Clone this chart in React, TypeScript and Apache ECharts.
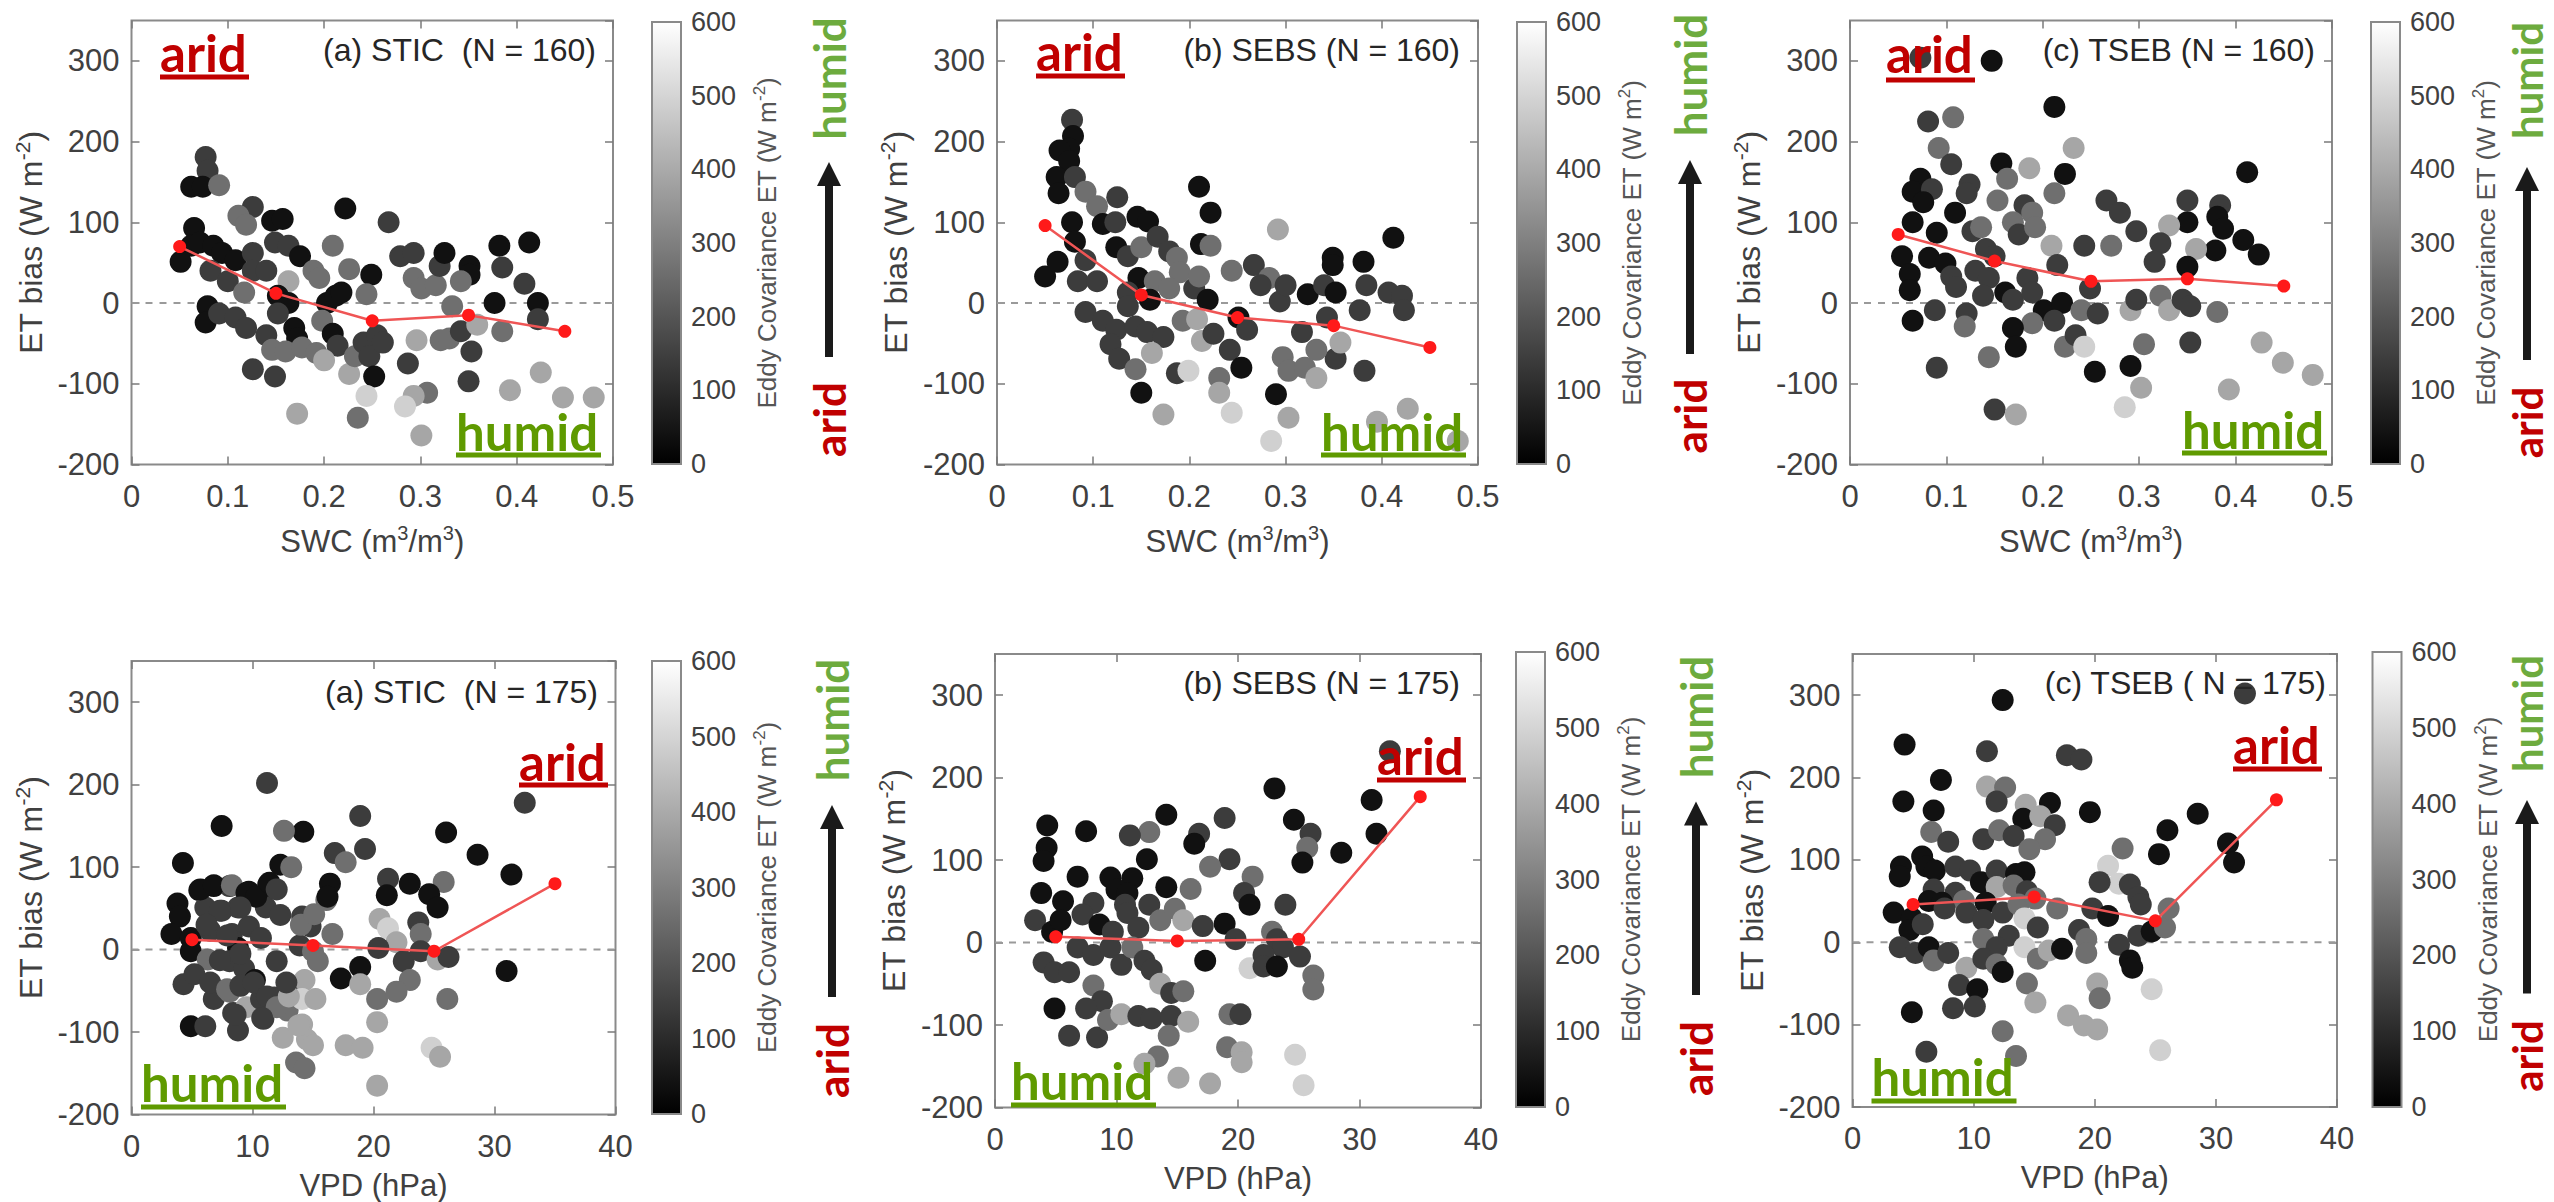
import React, { useEffect, useRef } from "react";
import * as echarts from "echarts";

// ---------- DATA ----------
// each point: [x, ET bias (W m-2), Eddy Covariance ET (W m-2)]
const sticSWC = [[0.077,181,140],[0.079,164,140],[0.062,144,40],[0.074,144,40],[0.091,146,260],[0.126,119,140],[0.111,108,260],[0.119,97,260],[0.146,102,40],[0.157,104,40],[0.222,117,40],[0.267,100,140],[0.209,71,260],[0.065,93,40],[0.062,71,40],[0.051,51,40],[0.071,75,40],[0.085,71,40],[0.094,62,40],[0.082,40,140],[0.100,27,140],[0.108,53,40],[0.126,62,140],[0.126,40,140],[0.117,13,260],[0.149,75,140],[0.163,71,140],[0.175,58,40],[0.163,27,390],[0.140,40,140],[0.152,9,40],[0.163,0,40],[0.079,-4,40],[0.077,-24,40],[0.091,-13,140],[0.108,-18,140],[0.119,-31,140],[0.140,-40,140],[0.152,-13,140],[0.169,-31,40],[0.172,-44,40],[0.146,-58,260],[0.160,-60,260],[0.177,-55,260],[0.126,-82,140],[0.149,-91,140],[0.189,40,260],[0.195,31,260],[0.203,0,40],[0.212,9,40],[0.218,13,40],[0.226,42,260],[0.198,-22,260],[0.209,-38,40],[0.214,-53,140],[0.192,-62,260],[0.200,-71,390],[0.226,-88,390],[0.232,-66,260],[0.241,-49,140],[0.247,-66,140],[0.249,35,40],[0.244,11,260],[0.255,-40,140],[0.261,-49,140],[0.252,-91,40],[0.244,-115,490],[0.235,-142,260],[0.172,-137,390],[0.279,58,140],[0.293,62,140],[0.293,31,260],[0.301,18,260],[0.316,22,260],[0.320,46,140],[0.325,62,40],[0.296,-46,390],[0.287,-75,140],[0.307,-111,260],[0.293,-115,390],[0.284,-128,490],[0.301,-164,390],[0.321,-46,260],[0.330,-44,260],[0.342,-35,140],[0.351,46,40],[0.351,35,40],[0.333,-4,260],[0.353,-60,140],[0.350,-97,140],[0.342,27,260],[0.382,71,40],[0.385,44,140],[0.377,0,40],[0.385,-35,260],[0.413,75,40],[0.408,24,140],[0.422,0,40],[0.422,-20,140],[0.393,-108,390],[0.425,-86,390],[0.448,-117,390],[0.480,-117,390],[0.359,-27,390]];

const sebsSWC = [[0.078,227,140],[0.079,207,40],[0.075,191,40],[0.065,189,40],[0.075,176,40],[0.062,156,40],[0.081,156,140],[0.064,136,40],[0.092,138,260],[0.104,120,260],[0.125,131,140],[0.078,100,40],[0.110,98,40],[0.123,100,140],[0.146,107,40],[0.157,101,40],[0.210,144,40],[0.222,112,40],[0.212,73,40],[0.222,71,260],[0.292,91,390],[0.412,81,40],[0.050,33,40],[0.063,51,40],[0.081,76,40],[0.092,53,140],[0.084,27,140],[0.104,27,140],[0.124,69,40],[0.136,58,140],[0.150,69,260],[0.167,82,140],[0.179,64,140],[0.187,56,260],[0.190,38,260],[0.147,31,40],[0.164,27,260],[0.136,13,140],[0.159,4,40],[0.179,18,260],[0.205,18,140],[0.219,4,40],[0.210,33,260],[0.092,-11,140],[0.110,-22,140],[0.124,-33,140],[0.136,-4,140],[0.144,-29,140],[0.156,-36,140],[0.173,-42,140],[0.118,-51,140],[0.127,-69,140],[0.144,-82,260],[0.150,-111,40],[0.161,-62,390],[0.173,-138,390],[0.187,-87,140],[0.199,-84,490],[0.193,-22,260],[0.208,-20,390],[0.213,-47,390],[0.225,-38,140],[0.231,-93,260],[0.231,-111,390],[0.242,-58,140],[0.254,-80,40],[0.244,-136,490],[0.244,40,260],[0.251,-18,40],[0.260,-33,140],[0.267,47,140],[0.283,31,260],[0.274,22,140],[0.294,2,140],[0.300,22,140],[0.297,-67,260],[0.303,-84,260],[0.290,-113,40],[0.303,-142,390],[0.285,-171,490],[0.320,-80,260],[0.332,-93,390],[0.317,-36,140],[0.323,11,40],[0.340,22,140],[0.349,56,40],[0.349,47,40],[0.352,13,40],[0.343,-18,140],[0.352,-69,140],[0.357,-49,390],[0.332,-58,260],[0.381,51,40],[0.384,22,140],[0.377,-9,140],[0.382,-84,140],[0.407,13,140],[0.421,9,140],[0.423,-9,140],[0.395,-147,390],[0.427,-131,390],[0.479,-171,390]];

const tsebSWC = [[0.147,300,40],[0.073,304,140],[0.212,243,40],[0.081,225,140],[0.107,230,260],[0.092,192,260],[0.232,192,390],[0.105,172,140],[0.157,173,40],[0.186,167,390],[0.223,160,40],[0.412,162,40],[0.073,154,40],[0.065,138,40],[0.085,141,140],[0.076,125,40],[0.124,147,140],[0.121,136,140],[0.163,154,260],[0.212,136,260],[0.153,127,260],[0.181,121,140],[0.189,112,260],[0.109,112,40],[0.065,100,40],[0.090,87,40],[0.127,89,140],[0.136,94,260],[0.169,100,260],[0.175,85,140],[0.192,94,260],[0.266,127,140],[0.280,112,140],[0.297,89,140],[0.350,127,140],[0.350,100,40],[0.384,121,140],[0.381,107,40],[0.387,92,40],[0.331,96,390],[0.408,78,40],[0.424,60,40],[0.379,65,40],[0.359,67,390],[0.322,74,140],[0.316,51,140],[0.271,71,260],[0.243,71,140],[0.209,71,390],[0.054,58,40],[0.062,36,40],[0.062,16,40],[0.065,-22,40],[0.082,56,40],[0.099,49,40],[0.105,33,140],[0.110,20,140],[0.130,40,140],[0.141,67,140],[0.150,58,140],[0.144,31,140],[0.138,9,140],[0.161,13,40],[0.169,4,140],[0.184,31,140],[0.189,13,140],[0.201,-9,40],[0.215,47,140],[0.220,0,40],[0.212,-22,140],[0.189,-25,260],[0.169,-31,40],[0.172,-54,40],[0.121,-13,140],[0.088,-9,140],[0.119,-29,260],[0.144,-67,260],[0.090,-80,140],[0.150,-132,140],[0.172,-138,390],[0.223,-54,260],[0.234,-40,140],[0.240,-9,260],[0.249,18,140],[0.257,-13,140],[0.243,-54,490],[0.254,-85,40],[0.291,-9,390],[0.297,4,140],[0.291,-78,40],[0.305,-51,260],[0.302,-105,390],[0.285,-129,490],[0.322,9,260],[0.331,-9,390],[0.345,4,140],[0.353,-4,140],[0.353,-49,140],[0.381,-11,260],[0.393,-107,390],[0.427,-49,390],[0.449,-74,390],[0.480,-89,390],[0.350,45,40]];

const sticVPD = [[11.2,202,140],[7.45,150,40],[14.2,143,40],[12.6,144,260],[18.9,162,140],[19.3,122,140],[16.8,117,140],[17.7,106,260],[4.25,105,40],[12.3,103,40],[13.2,100,260],[26.0,142,40],[28.6,115,40],[32.5,178,140],[31.4,91,40],[23.0,80,40],[21.2,86,140],[25.8,82,260],[24.6,67,40],[25.3,51,40],[21.1,66,40],[16.4,80,40],[16.1,60,260],[3.8,56,40],[4.0,40,40],[3.3,19,40],[4.9,14,40],[5.6,72,40],[6.8,77,40],[8.1,77,140],[6.1,51,140],[7.45,47,140],[8.8,51,140],[9.7,70,40],[10.7,63,40],[11.3,79,40],[11.1,51,140],[12.3,42,140],[14.1,40,140],[14.8,28,140],[16.6,19,260],[20.5,37,390],[21.2,26,490],[21.9,9,390],[23.7,33,140],[23.9,19,260],[6.5,23,140],[8.3,19,140],[9.7,28,140],[8.8,2,40],[10.7,14,140],[4.9,-2,40],[6.3,-12,260],[8.1,-14,140],[9.3,-23,140],[12.0,-14,140],[13.9,5,140],[15.0,-2,260],[15.4,-14,260],[17.3,-35,40],[18.9,-21,40],[20.4,2,140],[22.5,-14,140],[23.0,-37,260],[23.9,-2,140],[25.3,-12,390],[26.2,-9,140],[4.3,-42,140],[5.2,-30,140],[6.8,-60,140],[8.1,-51,260],[8.4,-77,140],[8.8,-98,140],[4.9,-93,40],[6.1,-93,140],[9.5,-70,390],[10.2,-37,40],[10.7,-60,140],[10.9,-84,140],[11.8,-58,140],[12.9,-42,140],[12.9,-74,260],[14.3,-37,390],[14.1,-60,490],[15.2,-60,390],[12.5,-107,390],[14.1,-91,390],[14.5,-109,390],[15.0,-116,390],[13.6,-137,260],[14.3,-144,260],[17.7,-116,390],[19.1,-119,390],[18.9,-42,390],[20.3,-60,260],[20.3,-88,390],[20.3,-165,390],[21.9,-51,260],[24.8,-119,490],[25.5,-130,390],[26.1,-60,260],[31.0,-26,40],
  [5.7,73,40],[6.8,78,40],[8.3,78,260],[9.5,69,40],[10.3,64,40],[11.4,81,40],[12.0,73,140],[9.0,51,140],[7.3,47,140],[6.2,30,140],[7.9,17,140],[9.0,-5,140],[7.3,-13,140],[6.5,-40,140],[7.9,-48,260],[9.0,-44,140],[10.1,-40,140],[11.2,-57,140],[12.0,-70,260],[8.6,-79,140],[10.8,-83,140],[13.0,-57,390],[13.8,-92,390],[12.8,-40,140],[14.0,30,260],[15.1,43,260],[16.2,64,40]];

const sebsVPD = [[23.0,187,40],[31.0,173,40],[32.5,232,140],[14.1,155,40],[18.9,151,140],[4.3,142,40],[7.5,135,40],[12.7,134,260],[11.1,130,140],[16.8,132,140],[16.4,120,40],[24.6,149,40],[25.97,132,140],[25.7,115,260],[31.4,132,40],[28.5,109,40],[25.3,97,40],[4.25,115,40],[4.0,99,40],[12.5,101,40],[19.3,101,140],[17.7,92,260],[21.2,80,260],[6.8,80,40],[9.5,79,40],[11.3,78,40],[14.1,67,40],[16.1,65,260],[20.5,60,140],[20.95,46,40],[23.9,46,140],[3.8,60,40],[5.6,50,40],[10.0,64,40],[10.9,60,40],[10.7,46,140],[12.7,46,140],[8.1,48,140],[3.3,27,140],[4.7,13,40],[5.4,27,40],[7.2,34,140],[8.6,22,40],[9.7,13,140],[10.9,36,140],[11.8,18,140],[13.6,27,260],[14.8,41,260],[15.5,27,390],[17.1,20,140],[18.9,23,40],[19.8,4,140],[22.8,13,260],[23.2,4,140],[23.7,-6,140],[4.0,-24,140],[4.9,-36,140],[6.1,-36,140],[6.8,-6,140],[8.1,-15,140],[9.5,-6,140],[10.4,-27,140],[11.3,-6,260],[12.3,-22,140],[12.9,-33,140],[13.6,-50,390],[14.5,-61,140],[15.5,-59,260],[17.3,-22,40],[20.95,-31,490],[22.1,-15,140],[22.1,-29,140],[23.2,-29,40],[25.1,-17,140],[26.2,-40,260],[26.2,-57,260],[8.1,-52,260],[8.8,-71,140],[7.5,-80,140],[4.9,-80,40],[6.1,-113,140],[8.4,-115,140],[9.3,-94,260],[10.4,-87,390],[11.8,-89,140],[12.9,-92,140],[14.5,-89,140],[14.3,-113,260],[15.9,-96,390],[19.3,-87,260],[20.2,-87,140],[19.1,-127,260],[20.3,-133,390],[20.3,-145,390],[13.4,-138,260],[12.3,-147,390],[15.1,-164,390],[17.7,-171,390],[24.7,-136,490],[25.4,-173,490]];

const tsebVPD = [[12.4,294,40],[32.4,302,140],[4.3,240,40],[11.1,232,140],[17.7,227,140],[18.9,222,140],[7.3,197,40],[11.1,189,390],[12.6,188,260],[4.2,171,40],[6.7,160,40],[11.9,171,140],[14.3,167,390],[16.3,169,40],[14.1,150,40],[15.5,153,390],[16.7,142,140],[19.6,158,40],[28.5,156,40],[26.0,136,40],[6.5,134,260],[7.9,122,140],[10.8,125,140],[12.1,136,260],[13.3,129,140],[15.9,125,260],[14.6,113,260],[22.3,114,260],[31.0,120,40],[31.5,97,40],[25.3,107,40],[21.1,93,490],[22.0,71,490],[22.9,70,140],[20.4,73,140],[23.6,55,140],[23.8,46,140],[4.0,92,40],[3.9,80,40],[5.75,104,40],[6.1,92,40],[6.8,87,40],[8.5,92,140],[9.7,87,140],[10.6,73,40],[11.9,87,140],[13.5,83,40],[14.2,85,40],[11.9,67,390],[13.3,69,260],[14.4,62,140],[6.7,64,140],[8.5,60,140],[6.3,50,40],[7.4,48,40],[9.2,50,260],[11.0,48,40],[3.4,36,40],[4.9,29,40],[4.7,15,40],[5.8,22,140],[7.6,41,140],[9.4,36,140],[10.8,27,140],[12.4,36,140],[13.7,46,260],[15.1,53,260],[14.2,29,490],[12.9,8,140],[15.3,18,140],[16.9,41,260],[19.8,41,140],[21.1,32,40],[18.7,15,140],[19.3,4,260],[23.6,8,140],[24.7,13,40],[25.8,18,260],[26.1,41,260],[3.9,-6,140],[5.2,-13,140],[6.3,-6,40],[6.7,-22,260],[7.9,-13,140],[9.4,-31,390],[10.8,4,260],[11.9,-6,140],[10.8,-20,140],[11.9,-27,260],[12.4,-36,40],[14.2,-6,490],[15.3,-20,260],[16.2,-10,390],[17.3,-8,40],[19.3,-13,260],[22.0,-3,140],[22.9,-22,40],[23.1,-31,40],[8.8,-52,140],[10.3,-57,40],[14.4,-50,260],[15.1,-73,390],[20.2,-50,390],[20.4,-68,260],[24.7,-57,490],[8.3,-80,140],[10.1,-78,140],[4.9,-85,40],[17.8,-89,390],[19.1,-101,390],[20.2,-106,390],[12.4,-108,260],[6.1,-133,140],[13.5,-138,260],[25.4,-131,490]];

// binned means (red line)
const swcBins = [0.05, 0.15, 0.25, 0.35, 0.45];
const sticSWCMean = [70, 12, -22, -15, -35];
const sebsSWCMean = [96, 10, -18, -28, -55];
const tsebSWCMean = [85, 52, 27, 30, 21];
const vpdBins = [5, 15, 25, 35];
const sticVPDMean = [12, 5, -2, 80];
const sebsVPDMean = [7, 2, 4, 177];
const tsebVPDMean = [46, 55, 26, 173];

const titles = ["(a) STIC  (N = 160)", "(b) SEBS (N = 160)", "(c) TSEB (N = 160)", "(a) STIC  (N = 175)", "(b) SEBS (N = 175)", "(c) TSEB ( N = 175)"];
const yRange = [-200, 350];
const yStep = 100;
const ecRange = [0, 600];
const ecStep = 100;

// ---------- STYLE / LAYOUT ----------
const FONT = '"Liberation Sans", Arial, Helvetica, sans-serif';
const GEO = 'Lato, "Noto Sans", sans-serif';
const TXT = "#404040";
const FRAME = "#8a8a8a";
const RED = "#c00000";
const GREEN_IN = "#5f9a00";
const GREEN_SIDE = "#6dab3e";

const panels = [
  { data: sticSWC, bins: swcBins, means: sticSWCMean, xMax: 0.5, xInt: 0.1, xName: "{t|SWC (m}{s|3}{t|/m}{s|3}{t|)}", ecSup: "-2",
    plot: [131.5, 20.5, 481.5, 444], cbar: [652, 22, 29, 442], side: [829, 78.5, 162, 357, 419.5, 44], arid: [160, 52.5, 77], humid: [456, 431, 455], title: [596, 50] },
  { data: sebsSWC, bins: swcBins, means: sebsSWCMean, xMax: 0.5, xInt: 0.1, xName: "{t|SWC (m}{s|3}{t|/m}{s|3}{t|)}", ecSup: "2",
    plot: [997, 20.5, 481, 444], cbar: [1517, 22, 29, 442], side: [1690, 75, 160, 354, 416, 44], arid: [1036, 51, 76], humid: [1321, 431, 455], title: [1460, 50] },
  { data: tsebSWC, bins: swcBins, means: tsebSWCMean, xMax: 0.5, xInt: 0.1, xName: "{t|SWC (m}{s|3}{t|/m}{s|3}{t|)}", ecSup: "2",
    plot: [1850, 20.5, 482, 444], cbar: [2371, 22, 29, 442], side: [2527, 80.5, 167, 360, 422.5, 42], arid: [1886, 53.5, 80], humid: [2182, 429, 453], title: [2315, 50] },
  { data: sticVPD, bins: vpdBins, means: sticVPDMean, xMax: 40, xInt: 10, xName: "{t|VPD (hPa)}", ecSup: "-2",
    plot: [131.5, 661, 484, 453.5], cbar: [652, 661, 29, 453], side: [832, 720, 805, 997, 1060.5, 44], arid: [519, 761.5, 785], humid: [141, 1082, 1107], title: [598, 692] },
  { data: sebsVPD, bins: vpdBins, means: sebsVPDMean, xMax: 40, xInt: 10, xName: "{t|VPD (hPa)}", ecSup: "2",
    plot: [995, 654, 486, 453.5], cbar: [1516, 652, 29, 455], side: [1696, 717, 801.5, 995, 1058.5, 44], arid: [1377, 755.5, 780], humid: [1011, 1080, 1105], title: [1460, 682.5] },
  { data: tsebVPD, bins: vpdBins, means: tsebVPDMean, xMax: 40, xInt: 10, xName: "{t|VPD (hPa)}", ecSup: "2",
    plot: [1852.5, 654, 484.5, 453], cbar: [2372.5, 652, 29, 455], side: [2527, 713.5, 800, 993.5, 1056, 42], arid: [2233, 744, 769], humid: [1871.5, 1076, 1101], title: [2326, 682.5] },
];

const richMain = (size, color) => ({
  t: { fontSize: size, fontFamily: FONT, color, lineHeight: size + 6 },
  s: { fontSize: Math.round(size * 0.65), fontFamily: FONT, color, verticalAlign: "top" },
});

function buildOption() {
  const grid = [], xAxis = [], yAxis = [], series = [], graphic = [];
  const scatterIdx = [];
  const tick = { show: true, inside: true, length: 8, lineStyle: { color: "#7a7a7a", width: 1.5 } };

  panels.forEach((p, i) => {
    const gi = grid.length;
    grid.push({ left: p.plot[0], top: p.plot[1], width: p.plot[2], height: p.plot[3], show: true, borderColor: FRAME, borderWidth: 2, backgroundColor: "#fff" });
    grid.push({ left: p.cbar[0], top: p.cbar[1], width: p.cbar[2], height: p.cbar[3], show: true, borderColor: FRAME, borderWidth: 2, z: 10 });
    const xi = xAxis.length, yi = yAxis.length;
    xAxis.push({
      type: "value", gridIndex: gi, min: 0, max: p.xMax, interval: p.xInt, position: "bottom",
      axisLine: { show: false, onZero: false }, axisTick: tick, splitLine: { show: false },
      axisLabel: { fontSize: 31, color: TXT, fontFamily: FONT, margin: 16 },
      name: p.xName, nameLocation: "middle", nameGap: i < 3 ? 58 : 52,
      nameTextStyle: { rich: richMain(31, TXT) },
    });
    xAxis.push({
      type: "value", gridIndex: gi, min: 0, max: p.xMax, interval: p.xInt, position: "top",
      axisLine: { show: false, onZero: false }, axisTick: tick, splitLine: { show: false }, axisLabel: { show: false },
    });
    xAxis.push({ type: "category", gridIndex: gi + 1, data: [""], show: false });
    yAxis.push({
      type: "value", gridIndex: gi, min: yRange[0], max: yRange[1], interval: yStep, position: "left",
      axisLine: { show: false, onZero: false }, axisTick: tick, splitLine: { show: false },
      axisLabel: { fontSize: 31, color: TXT, fontFamily: FONT, margin: 12, showMaxLabel: false },
      name: "{t|ET bias (W m}{s|-2}{t|)}", nameLocation: "middle", nameRotate: 90, nameGap: 82,
      nameTextStyle: { rich: richMain(32, TXT) },
    });
    yAxis.push({
      type: "value", gridIndex: gi, min: yRange[0], max: yRange[1], interval: yStep, position: "right",
      axisLine: { show: false, onZero: false }, axisTick: tick, splitLine: { show: false }, axisLabel: { show: false },
    });
    yAxis.push({
      type: "value", gridIndex: gi + 1, min: ecRange[0], max: ecRange[1], interval: ecStep, position: "right",
      axisLine: { show: false }, axisTick: { show: true, inside: true, length: 6, lineStyle: { color: "#7a7a7a", width: 1.5 } },
      splitLine: { show: false },
      axisLabel: { fontSize: 27, color: TXT, fontFamily: FONT, margin: 10 },
      name: "{t|Eddy Covariance ET (W m}{s|" + p.ecSup + "}{t|)}", nameLocation: "middle", nameRotate: 90, nameGap: 70,
      nameTextStyle: { rich: richMain(26, "#555555") },
    });

    series.push({
      type: "line", xAxisIndex: xi, yAxisIndex: yi, data: [[0, 0], [p.xMax, 0]], symbol: "none", silent: true, z: 1,
      lineStyle: { color: "#9a9a9a", width: 2, type: [7, 7] },
    });
    scatterIdx.push(series.length);
    series.push({
      type: "scatter", xAxisIndex: xi, yAxisIndex: yi, data: p.data, symbolSize: 22, z: 2,
      itemStyle: { opacity: 1 },
    });
    series.push({
      type: "line", xAxisIndex: xi, yAxisIndex: yi, data: p.bins.map((b, k) => [b, p.means[k]]), z: 5,
      symbol: "circle", symbolSize: 13, itemStyle: { color: "#ff1a1a" }, lineStyle: { color: "#ef5555", width: 2.5 },
    });
    series.push({
      type: "bar", xAxisIndex: xi + 2, yAxisIndex: yi + 2, data: [ecRange[1]], barWidth: "100%", silent: true, z: 2,
      itemStyle: { color: { type: "linear", x: 0, y: 0, x2: 0, y2: 1, colorStops: [{ offset: 0, color: "#ffffff" }, { offset: 1, color: "#000000" }] } },
    });

    // title inside the plot
    graphic.push({ type: "text", x: p.title[0], y: p.title[1], z: 20,
      style: { text: titles[i], fontSize: 32, fontFamily: FONT, fill: "#262626", textAlign: "right", textVerticalAlign: "middle" } });
    // in-plot arid / humid labels
    graphic.push({ type: "text", x: p.arid[0], y: p.arid[1], z: 20,
      style: { text: "arid", fontSize: 51, fontWeight: "bold", fontFamily: GEO, fill: RED, textAlign: "left", textVerticalAlign: "middle" } });
    graphic.push({ type: "rect", z: 20, shape: { x: p.arid[0], y: p.arid[2] - 2.5, width: 89, height: 5 }, style: { fill: RED } });
    graphic.push({ type: "text", x: p.humid[0], y: p.humid[1], z: 20,
      style: { text: "humid", fontSize: 51, fontWeight: "bold", fontFamily: GEO, fill: GREEN_IN, textAlign: "left", textVerticalAlign: "middle" } });
    graphic.push({ type: "rect", z: 20, shape: { x: p.humid[0], y: p.humid[2] - 2.5, width: 145, height: 5 }, style: { fill: GREEN_IN } });
    // side arrow with humid / arid
    const [ax, hy, tip, tail, ay, fs] = p.side;
    graphic.push({ type: "text", x: ax, y: hy, rotation: Math.PI / 2, z: 20,
      style: { text: "humid", fontSize: fs, lineHeight: fs, fontWeight: "bold", fontFamily: GEO, fill: GREEN_SIDE, textAlign: "center", textVerticalAlign: "middle" } });
    graphic.push({ type: "text", x: ax, y: ay, rotation: Math.PI / 2, z: 20,
      style: { text: "arid", fontSize: fs, lineHeight: fs, fontWeight: "bold", fontFamily: GEO, fill: RED, textAlign: "center", textVerticalAlign: "middle" } });
    graphic.push({ type: "rect", z: 20, shape: { x: ax - 4, y: tip + 20, width: 8, height: tail - tip - 20 }, style: { fill: "#1a1a1a" } });
    graphic.push({ type: "polygon", z: 20, shape: { points: [[ax, tip], [ax - 12, tip + 24], [ax + 12, tip + 24]] }, style: { fill: "#1a1a1a" } });
  });

  return {
    animation: false,
    backgroundColor: "#ffffff",
    textStyle: { fontFamily: FONT },
    grid, xAxis, yAxis, series, graphic,
    visualMap: [{
      type: "continuous", show: false, min: ecRange[0], max: ecRange[1], dimension: 2, seriesIndex: scatterIdx,
      inRange: { color: ["#000000", "#ffffff"] },
    }],
  };
}

export default function App() {
  const ref = useRef(null);
  useEffect(() => {
    const chart = echarts.init(ref.current, null, { renderer: "svg" });
    chart.setOption(buildOption());
    return () => chart.dispose();
  }, []);
  return <div ref={ref} style={{ position: "absolute", left: 0, top: 0, width: 2554, height: 1202, background: "#fff" }} />;
}
